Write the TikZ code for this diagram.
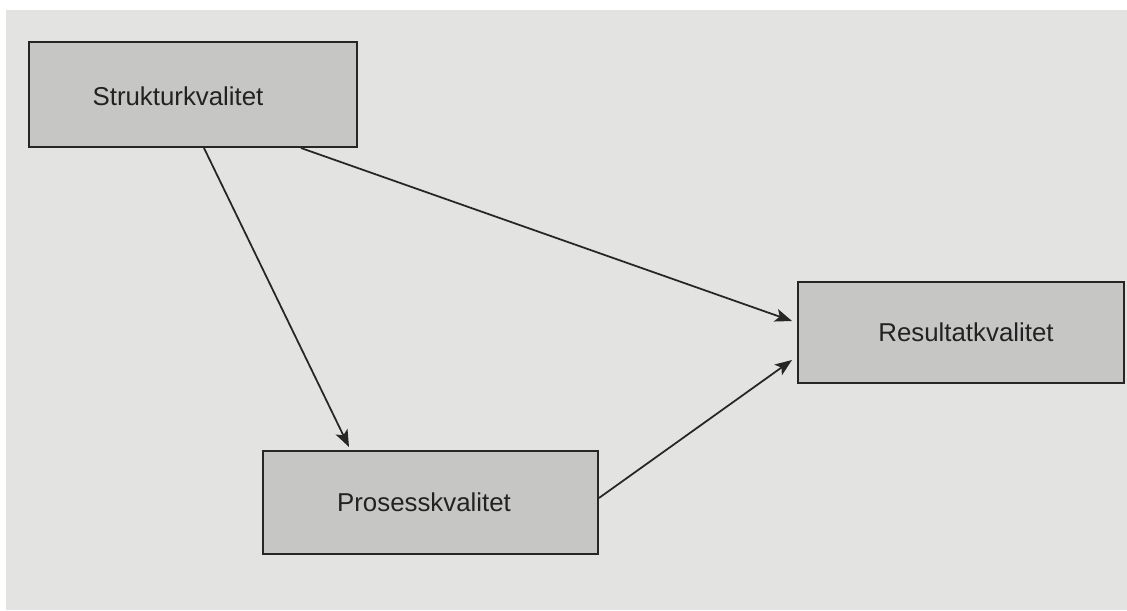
\documentclass[tikz,border=0pt]{standalone}
\usepackage{fontspec}
\setmainfont{Liberation Sans}
\usetikzlibrary{arrows.meta}
\definecolor{paper}{HTML}{E3E3E1}
\definecolor{boxfill}{HTML}{C6C6C4}
\definecolor{ink}{HTML}{262626}
\begin{document}
\begin{tikzpicture}[x=0.02cm,y=-0.02cm,
  qbox/.style={draw=ink, line width=1.15pt, fill=boxfill, inner sep=0pt},
  qtext/.style={text=ink!90!black, font=\fontsize{14.7}{17}\selectfont, inner sep=0pt},
  link/.style={draw=ink, line width=1pt,
    -{Stealth[length=0.34cm,width=0.26cm,inset=0.08cm]}}]
% page
\fill[white] (0,0) rectangle (1127,610);
\fill[paper] (6,10) rectangle (1127,610);
\useasboundingbox (0,0) rectangle (1127,610);

% the three quality boxes
\node[qbox, minimum width=6.56cm, minimum height=2.1cm] (struktur) at (193,94.5) {};
\node[qbox, minimum width=6.52cm, minimum height=2.02cm] (resultat) at (961,332.5) {};
\node[qbox, minimum width=6.7cm, minimum height=2.06cm] (prosess) at (430.5,502.5) {};

\node[qtext] (strukturtext) at (178,96) {Strukturkvalitet};
\node[qtext] (resultattext) at (966,332) {Resultatkvalitet};
\node[qtext] (prosesstext) at (424,502) {Prosesskvalitet};

% influences
\draw[link] ([xshift=3.52cm]struktur.south west) -- ([xshift=1.74cm,yshift=0.06cm]prosess.north west);
\draw[link] ([xshift=5.46cm]struktur.south west) -- ([xshift=-0.1cm,yshift=-0.8cm]resultat.north west);
\draw[link] ([yshift=-0.96cm]prosess.north east) -- ([xshift=-0.1cm,yshift=-1.58cm]resultat.north west);
\end{tikzpicture}
\end{document}
